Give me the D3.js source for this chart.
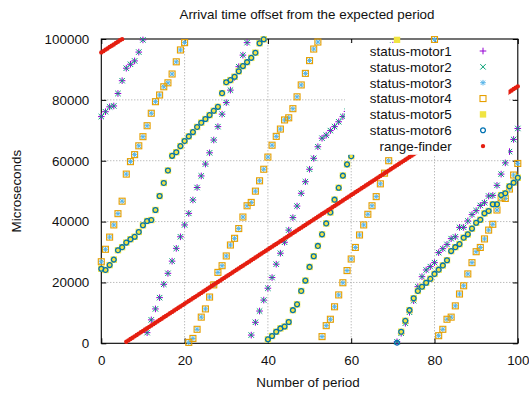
<!DOCTYPE html>
<html>
<head>
<meta charset="utf-8">
<script src="https://cdn.jsdelivr.net/npm/d3@7"></script>
<style>
  body { margin: 0; background: #fff; }
  svg { display: block; font-family: "Liberation Sans", Arial, sans-serif; }
</style>
</head>
<body>
<svg id="chart" width="529" height="393"></svg>
<script>
// arrival offset (us) per period, index = period number
const motor12 = [
  74500, 76100, 77700, 78000, 82100, 86300, 90400, 91700, 92800, 95700,
  99700, 3500, 7700, 11300, 15000, 19400, 23000, 27000, 31200, 35000,
  38900, 42700, 47100, 51200, 55000, 58900, 62600, 66800, 71200, 75300,
  79100, 83200, 87400, 90900, 94700, 98800, 2700, 6900, 10600, 14200,
  18100, 21600, 26000, 29600, 33200, 37200, 41300, 45100, 49300, 53100,
  57200, 60800, 64600, 67400, 68400, 69900, 71200, 72800, 74500, 76200,
  78100, 80000, 82000, 84000, 86000, 88000, 90000, 92000, 94000, 96000,
  98000, 500, 3300, 6600, 10200, 14000, 18600, 21900, 24100, 25200,
  26500, 29800, 31100, 32500, 34400, 35000, 38100, 38100, 40200, 42300,
  43600, 45300, 46200, 48400, 48600, 51900, 55600, 59300, 63000, 67000,
  70600
];
const motor34 = [
  26800, 30900, 34900, 38900, 42600, 46700, 55600, 59700, 62000, 64900,
  67900, 71500, 75600, 79400, 81600, 84300, 85600, 88500, 92500, 96400,
  98800, 300, 1600, 4600, 8600, 11300, 15200, 19200, 23300, 25500,
  28700, 32300, 34500, 37700, 41500, 45200, 46300, 50000, 53400, 57200,
  61200, 65100, 68000, 70400, 73400, 74100, 77100, 81000, 84900, 88700,
  92900, 96700, 99000, 2200, 5800, 7900, 12000, 15900, 19900, 23900,
  27700, 31500, 35600, 38900, 42400, 45200, 48200, 52400, 55900, 60000,
  63600, 67200, 70800, 74400, 78000, 81600, 85200, 88800, 92400, 96000,
  99800, 2500, 4600, 7900, 8600, 12300, 16200, 18900, 22800, 26500,
  30100, 31500, 34300, 37200, 39100, 43800, 47800, 47600, 50700, 55300,
  59100
];
const motor56 = [
  24500, 24100, 25700, 27500, 30600, 31600, 33100, 34200, 35000, 36600,
  38800, 40200, 40500, 43800, 48400, 52700, 56800, 61600, 62800, 64800,
  66500, 68000, 69400, 71100, 72500, 73700, 75000, 76400, 77700, 82200,
  85800, 86500, 87600, 89400, 91100, 92400, 93800, 95500, 98600, 99900,
  1300, 2400, 3800, 4900, 5500, 7000, 10900, 12800, 17200, 20600,
  25100, 28600, 32000, 35800, 39400, 43000, 47200, 51100, 55100, 58800,
  61500, 65000, 68500, 72000, 75500, 79000, 82500, 86000, 89500, 93000,
  96500, 200, 3800, 7400, 10900, 14800, 17200, 18600, 19900, 21200,
  22800, 24200, 25600, 27300, 30300, 31600, 32600, 34700, 35800, 37700,
  39600, 40600, 42700, 43500, 45700, 45700, 48700, 49300, 51600, 52800,
  54400
];
// motor5 differs from motor6 only where it wrapped one period later
const motor5Only = [[71, 99700]];

// range-finder logs two samples per period (index / 2 = period)
const rangeFinder = [
  95600, 96000, 96500, 96900, 97400, 97800, 98200, 98700, 99100, 99600,
  99950, null,
  500, 950, 1390, 1840, 2290, 2730, 3180, 3630, 4070, 4520,
  4960, 5410, 5860, 6300, 6750, 7200, 7640, 8090, 8540, 8980,
  9430, 9880, 10320, 10770, 11220, 11660, 12110, 12560, 13000, 13450,
  13900, 14340, 14790, 15230, 15680, 16130, 16570, 17020, 17470, 17910,
  18360, 18810, 19250, 19700, 20150, 20590, 21040, 21490, 21930, 22380,
  22830, 23270, 23720, 24160, 24610, 25060, 25500, 25950, 26400, 26840,
  27290, 27740, 28180, 28630, 29080, 29520, 29970, 30420, 30860, 31310,
  31760, 32200, 32650, 33090, 33540, 33990, 34430, 34880, 35330, 35770,
  36220, 36670, 37110, 37560, 38010, 38450, 38900, 39350, 39790, 40240,
  40690, 41130, 41580, 42020, 42470, 42920, 43360, 43810, 44260, 44700,
  45150, 45600, 46040, 46490, 46940, 47380, 47830, 48280, 48720, 49170,
  49620, 50060, 50510, 50950, 51400, 51850, 52290, 52740, 53190, 53630,
  54080, 54530, 54970, 55420, 55870, 56310, 56760, 57210, 57650, 58100,
  58550, 58990, 59440, 59880, 60330, 60780, 61220, 61670, 62120, 62560,
  63010, 63460, 63900, 64350, 64800, 65240, 65690, 66140, 66580, 67030,
  67480, 67920, 68370, 68810, 69260, 69710, 70150, 70600, 71050, 71490,
  71940, 72390, 72830, 73280, 73730, 74170, 74620, 75070, 75510, 75960,
  76400, 76850, 77300, 77740, 78190, 78640, 79080, 79530, 79980, 80420,
  80870, 81320, 81760, 82210, 82660, 83100, 83550, 84000, 84440
];

const xTicks = [0, 20, 40, 60, 80, 100];
const yTicks = [0, 20000, 40000, 60000, 80000, 100000];

const seriesNames = ['status-motor1', 'status-motor2', 'status-motor3', 'status-motor4',
  'status-motor5', 'status-motor6', 'range-finder'];
const seriesColors = ['#9400d3', '#009e73', '#56b4e9', '#e69f00', '#f0e442', '#0072b2', '#e51e10'];
const seriesShapes = ['plus', 'cross', 'star', 'box', 'filledBox', 'circle', 'dot'];

const motor5 = motor56.slice();
motor5Only.forEach(([p, v]) => { motor5[p] = v; });
const seriesValues = [motor12, motor12, motor34, motor34, motor5, motor56, rangeFinder];
const seriesStep = [1, 1, 1, 1, 1, 1, 0.5];

const svg = d3.select('#chart');
const fontSize = 13.4;

const x = d3.scaleLinear().domain([0, 100]).range([101.3, 517.8]);
const y = d3.scaleLinear().domain([0, 100000]).range([343.3, 39]);

// grid
const grid = svg.append('g').attr('stroke', '#a0a0a0').attr('stroke-width', 1)
  .attr('stroke-dasharray', '1,2');
grid.selectAll('.gx').data(xTicks.slice(1, -1)).join('line')
  .attr('x1', d => x(d)).attr('x2', d => x(d))
  .attr('y1', y(0)).attr('y2', y(100000));
grid.selectAll('.gy').data(yTicks.slice(1, -1)).join('line')
  .attr('y1', d => y(d)).attr('y2', d => y(d))
  .attr('x1', x(0)).attr('x2', x(100));

// axes with inward ticks on all four sides
function styleAxis(g) {
  g.select('.domain').remove();
  g.attr('font-family', '"Liberation Sans", Arial, sans-serif').attr('font-size', fontSize);
  g.selectAll('text').attr('fill', '#111');
  g.selectAll('line').attr('stroke', '#000');
}
const plain = d3.format('d');
svg.append('g').attr('transform', `translate(${x(0)},0)`)
  .call(d3.axisLeft(y).tickValues(yTicks).tickFormat(plain).tickSizeInner(-5).tickSizeOuter(0).tickPadding(12))
  .call(styleAxis);
svg.append('g').attr('transform', `translate(${x(100)},0)`)
  .call(d3.axisRight(y).tickValues(yTicks).tickSizeInner(-5).tickSizeOuter(0).tickFormat(''))
  .call(styleAxis);
svg.append('g').attr('transform', `translate(0,${y(0)})`)
  .call(d3.axisBottom(x).tickValues(xTicks).tickFormat(plain).tickSizeInner(-5).tickSizeOuter(0).tickPadding(12))
  .call(styleAxis);
svg.append('g').attr('transform', `translate(0,${y(100000)})`)
  .call(d3.axisTop(x).tickValues(xTicks).tickSizeInner(-5).tickSizeOuter(0).tickFormat(''))
  .call(styleAxis);

svg.append('rect')
  .attr('x', x(0)).attr('y', y(100000))
  .attr('width', x(100) - x(0)).attr('height', y(0) - y(100000))
  .attr('fill', 'none').attr('stroke', '#000').attr('stroke-width', 1.1);

// marker glyphs, gnuplot style
function addMark(g, shape, color) {
  if (shape === 'plus') {
    g.append('path').attr('d', 'M-3.3,0H3.3M0,-3.3V3.3').attr('stroke', color).attr('fill', 'none');
  } else if (shape === 'cross') {
    g.append('path').attr('d', 'M-2.7,-2.7L2.7,2.7M-2.7,2.7L2.7,-2.7').attr('stroke', color).attr('fill', 'none');
  } else if (shape === 'star') {
    g.append('path').attr('d', 'M-2.8,0H2.8M0,-2.8V2.8M-2.1,-2.1L2.1,2.1M-2.1,2.1L2.1,-2.1')
      .attr('stroke', color).attr('fill', 'none');
  } else if (shape === 'box') {
    g.append('rect').attr('x', -3).attr('y', -3).attr('width', 6).attr('height', 6)
      .attr('fill', 'none').attr('stroke', color).attr('stroke-width', 1.1);
  } else if (shape === 'filledBox') {
    g.append('rect').attr('x', -3.2).attr('y', -3.2).attr('width', 6.4).attr('height', 6.4)
      .attr('fill', color);
  } else if (shape === 'circle') {
    g.append('circle').attr('r', 2.4).attr('fill', 'none').attr('stroke', color).attr('stroke-width', 1.3);
  } else {
    g.append('circle').attr('r', 2.2).attr('fill', color);
  }
}

seriesNames.forEach((name, s) => {
  const pts = seriesValues[s]
    .map((v, i) => ({ p: i * seriesStep[s], v }))
    .filter(d => d.v != null);
  svg.append('g').attr('class', 'series')
    .selectAll('g').data(pts).join('g')
    .attr('transform', d => `translate(${x(d.p)},${y(d.v)})`)
    .each(function() { addMark(d3.select(this), seriesShapes[s], seriesColors[s]); });
});

// opaque key
svg.append('rect').attr('x', 345).attr('y', 43).attr('width', 163.5).attr('height', 111.8)
  .attr('fill', '#fff');
const key = svg.append('g');
seriesNames.forEach((name, s) => {
  const base = 55.8 + s * 15.85;
  key.append('text').attr('x', 451.7).attr('y', base)
    .attr('text-anchor', 'end').attr('font-size', fontSize).attr('fill', '#111')
    .text(name);
  const g = key.append('g').attr('transform', `translate(483,${base - 4.8})`);
  addMark(g, seriesShapes[s], seriesColors[s]);
});

// titles
svg.append('text').attr('x', 307).attr('y', 18.5).attr('text-anchor', 'middle')
  .attr('font-size', fontSize).attr('fill', '#111')
  .text('Arrival time offset from the expected period');
svg.append('text').attr('x', 308).attr('y', 387).attr('text-anchor', 'middle')
  .attr('font-size', fontSize).attr('fill', '#111')
  .text('Number of period');
svg.append('text').attr('transform', `translate(20.5,${(y(0) + y(100000)) / 2}) rotate(-90)`)
  .attr('text-anchor', 'middle').attr('font-size', fontSize).attr('fill', '#111')
  .text('Microseconds');
</script>
</body>
</html>
